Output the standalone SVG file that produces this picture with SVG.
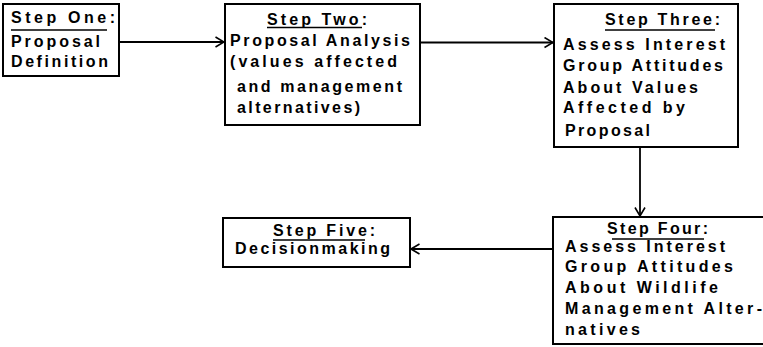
<svg xmlns="http://www.w3.org/2000/svg" width="763" height="347" viewBox="0 0 763 347">
  <style>
    .box { fill: #ffffff; stroke: #000000; stroke-width: 2; }
    .t { font-family: "Liberation Sans", Arial, sans-serif; font-weight: bold; font-size: 16px; fill: #000000; }
    .ul { stroke: #000000; stroke-width: 1.6; }
    .conn { fill: none; stroke: #000000; stroke-width: 1.8; }
  </style>
  <defs>
    <marker id="chev" viewBox="0 0 10 12" refX="9.5" refY="6" markerWidth="10" markerHeight="12" markerUnits="userSpaceOnUse" orient="auto">
      <path d="M1,1 L9.5,6 L1,11" fill="none" stroke="#000000" stroke-width="1.6"/>
    </marker>
  </defs>
  <rect width="763" height="347" fill="#ffffff"/>

  <g id="connectors">
    <line class="conn" x1="120" y1="42" x2="224" y2="42" marker-end="url(#chev)"/>
    <line class="conn" x1="421" y1="42.5" x2="553" y2="42.5" marker-end="url(#chev)"/>
    <line class="conn" x1="640" y1="148" x2="640" y2="216" marker-end="url(#chev)"/>
    <line class="conn" x1="553" y1="249" x2="411" y2="249" marker-end="url(#chev)"/>
  </g>

  <g id="step-one">
    <rect class="box" x="3" y="4" width="116" height="72"/>
    <text class="t" x="11" y="23.3" textLength="104" lengthAdjust="spacing">Step One:</text>
    <line class="ul" x1="11" y1="30" x2="107" y2="30"/>
    <text class="t" x="11" y="46.7" textLength="89" lengthAdjust="spacing">Proposal</text>
    <text class="t" x="11" y="66.7" textLength="97" lengthAdjust="spacing">Definition</text>
  </g>

  <g id="step-two">
    <rect class="box" x="225" y="4" width="195" height="121"/>
    <text class="t" x="267" y="25" textLength="100" lengthAdjust="spacing">Step Two:</text>
    <line class="ul" x1="267" y1="27.5" x2="362" y2="27.5"/>
    <text class="t" x="230" y="46" textLength="180" lengthAdjust="spacing">Proposal Analysis</text>
    <text class="t" x="230" y="66.5" textLength="167" lengthAdjust="spacing">(values affected</text>
    <text class="t" x="237" y="92" textLength="165" lengthAdjust="spacing">and management</text>
    <text class="t" x="237" y="113" textLength="123" lengthAdjust="spacing">alternatives)</text>
  </g>

  <g id="step-three">
    <rect class="box" x="554" y="4" width="184" height="143"/>
    <text class="t" x="605" y="25" textLength="115" lengthAdjust="spacing">Step Three:</text>
    <line class="ul" x1="605" y1="30" x2="715" y2="30"/>
    <text class="t" x="563" y="49.5" textLength="162" lengthAdjust="spacing">Assess Interest</text>
    <text class="t" x="563" y="70.5" textLength="160" lengthAdjust="spacing">Group Attitudes</text>
    <text class="t" x="563" y="92.5" textLength="135" lengthAdjust="spacing">About Values</text>
    <text class="t" x="563" y="113" textLength="122" lengthAdjust="spacing">Affected by</text>
    <text class="t" x="565" y="136" textLength="85" lengthAdjust="spacing">Proposal</text>
  </g>

  <g id="step-four">
    <rect class="box" x="553" y="217" width="212" height="127"/>
    <text class="t" x="607" y="234" textLength="101" lengthAdjust="spacing">Step Four:</text>
    <line class="ul" x1="612" y1="239" x2="704" y2="239"/>
    <text class="t" x="565" y="252.3" textLength="160" lengthAdjust="spacing">Assess Interest</text>
    <text class="t" x="565" y="272.3" textLength="168" lengthAdjust="spacing">Group Attitudes</text>
    <text class="t" x="565" y="293.3" textLength="153" lengthAdjust="spacing">About Wildlife</text>
    <text class="t" x="565" y="314" textLength="197" lengthAdjust="spacing">Management Alter-</text>
    <text class="t" x="565" y="335" textLength="75" lengthAdjust="spacing">natives</text>
  </g>

  <g id="step-five">
    <rect class="box" x="223" y="218" width="187" height="49"/>
    <text class="t" x="273" y="235.5" textLength="102" lengthAdjust="spacing">Step Five:</text>
    <line class="ul" x1="273" y1="240" x2="365" y2="240"/>
    <text class="t" x="235" y="254" textLength="155" lengthAdjust="spacing">Decisionmaking</text>
  </g>
</svg>
